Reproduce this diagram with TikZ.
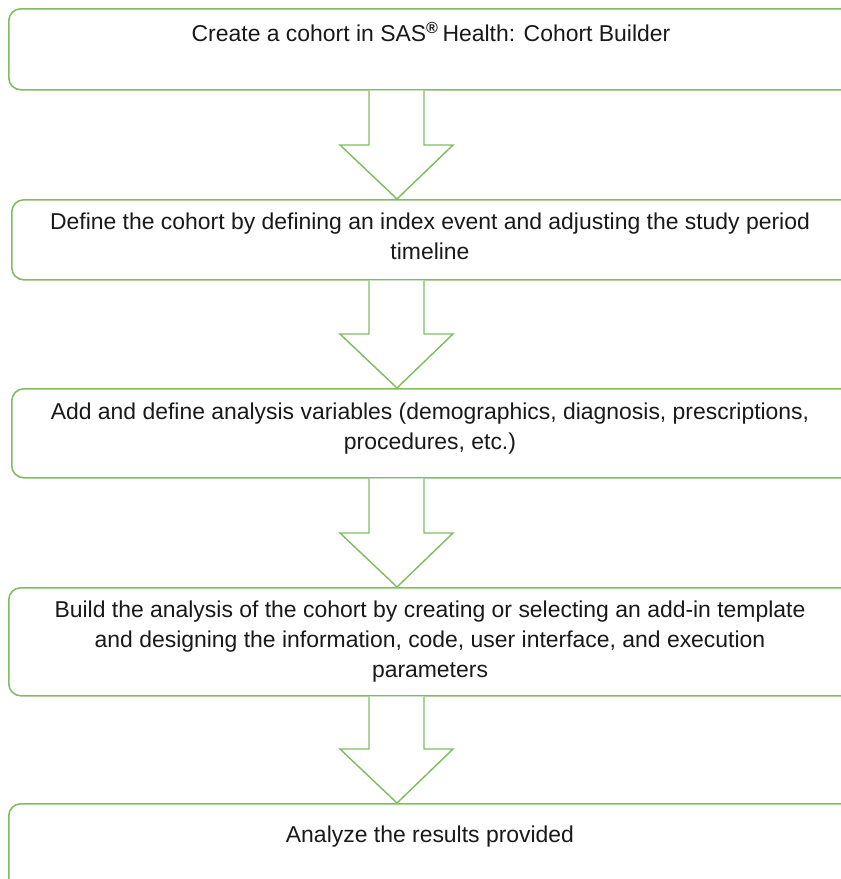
\documentclass[tikz,border=0pt]{standalone}
\usepackage{fontspec}
\setmainfont{Liberation Sans}
\usetikzlibrary{calc}
\definecolor{grn}{RGB}{130,188,100}
\definecolor{txtc}{RGB}{25,25,25}
\tikzset{
  box/.style={draw=grn, line width=1.2pt, rounded corners=9pt, fill=white, anchor=north west, minimum width=850*0.75pt, inner sep=0pt},
  txt/.style={anchor=north, align=center, font=\fontsize{17.2pt}{22.5pt}\selectfont, text=txtc, inner sep=0pt},
  arr/.style={draw=grn, line width=1.1pt, fill=white, line join=miter}
}
\begin{document}
\begin{tikzpicture}[x=0.75pt,y=-0.75pt]
\useasboundingbox (0,0) rectangle (841,879);
\clip (0,0) rectangle (841,879);
\node[box, minimum height=81*0.75pt] (b1) at (8,8) {};
\node[box, minimum height=80*0.75pt] (b2) at (11,199) {};
\node[box, minimum height=89*0.75pt] (b3) at (11,388) {};
\node[box, minimum height=108*0.75pt] (b4) at (8,587) {};
\node[box, minimum height=100*0.75pt] (b5) at (8,803) {};
\node[txt] (t1) at (431,22) {Create a cohort in SAS\textsuperscript{\textbf{®}}\,Health: Cohort Builder};
\node[txt] (t2) at (430,213) {Define the cohort by defining an index event and adjusting the study period\\timeline};
\node[txt] (t3) at (430,403) {Add and define analysis variables (demographics, diagnosis, prescriptions,\\procedures, etc.)};
\node[txt] (t4) at (430,601) {Build the analysis of the cohort by creating or selecting an add-in template\\and designing the information, code, user interface, and execution\\parameters};
\node[txt] (t5) at (430,826) {Analyze the results provided};
\coordinate (xa) at (340,0);
\coordinate (xb) at (369,0);
\coordinate (xc) at (397,0);
\coordinate (xd) at (424,0);
\coordinate (xe) at (453,0);
\foreach \a/\b in {b1/b2,b2/b3,b3/b4,b4/b5}{
  \coordinate (h) at ($(\b.north)+(0,-54)$);
  \draw[arr] (xb |- \a.south) -- (xb |- h) -- (xa |- h) -- (xc |- \b.north) -- (xe |- h) -- (xd |- h) -- (xd |- \a.south);
}
\end{tikzpicture}
\end{document}
